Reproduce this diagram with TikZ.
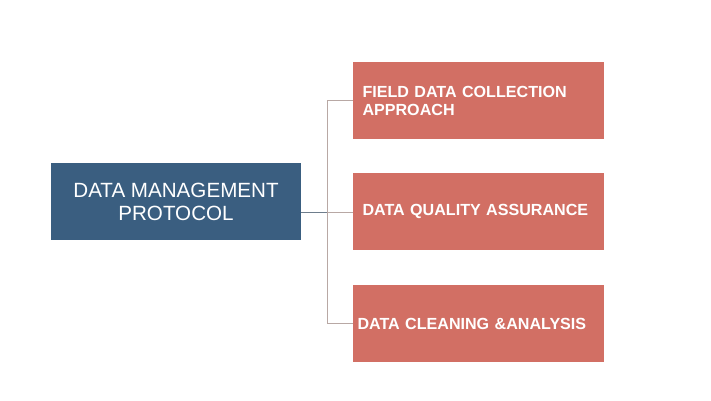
\documentclass[tikz,border=0pt]{standalone}
\usepackage{fontspec}
\setmainfont{Liberation Sans}
\usetikzlibrary{positioning}
\definecolor{protblue}{RGB}{58,94,128}
\definecolor{topicred}{RGB}{210,111,100}
\definecolor{branchgray}{RGB}{184,168,164}
\definecolor{stubgray}{RGB}{110,125,140}
\tikzset{
  mainbox/.style={fill=protblue,text=white,minimum width=250pt,minimum height=77pt,
    align=center,font=\fontsize{20.6}{23}\selectfont,inner sep=0pt},
  topicbox/.style={fill=topicred,text=white,minimum width=251pt,minimum height=77pt,
    text width=232pt,align=left,font=\fontsize{16.1}{18}\bfseries\selectfont}
}
\begin{document}
\begin{tikzpicture}[x=1pt,y=-1pt]
\useasboundingbox (0,0) rectangle (711,400);

\node[mainbox] (mgmt) at (176,201.5) {DATA MANAGEMENT\\PROTOCOL};

\node[topicbox] (quality) at (478.5,211.5) {DATA QUALITY ASSURANCE};
\node[topicbox] (field) [above of=quality,node distance=111pt] {FIELD DATA COLLECTION\\APPROACH};
\node[topicbox,text width=242pt] (cleaning) [below of=quality,node distance=112pt] {DATA CLEANING \&ANALYSIS};

\coordinate (trunk) at (327,212);

\draw[stubgray,line width=0.8pt] (mgmt.east |- trunk) -- (trunk);
\draw[branchgray,line width=0.7pt]
(trunk |- field.west) -- (trunk |- cleaning.west)
(trunk) -- (quality.west |- trunk)
(trunk |- field.west) -- (field.west)
(trunk |- cleaning.west) -- (cleaning.west);
\end{tikzpicture}
\end{document}
